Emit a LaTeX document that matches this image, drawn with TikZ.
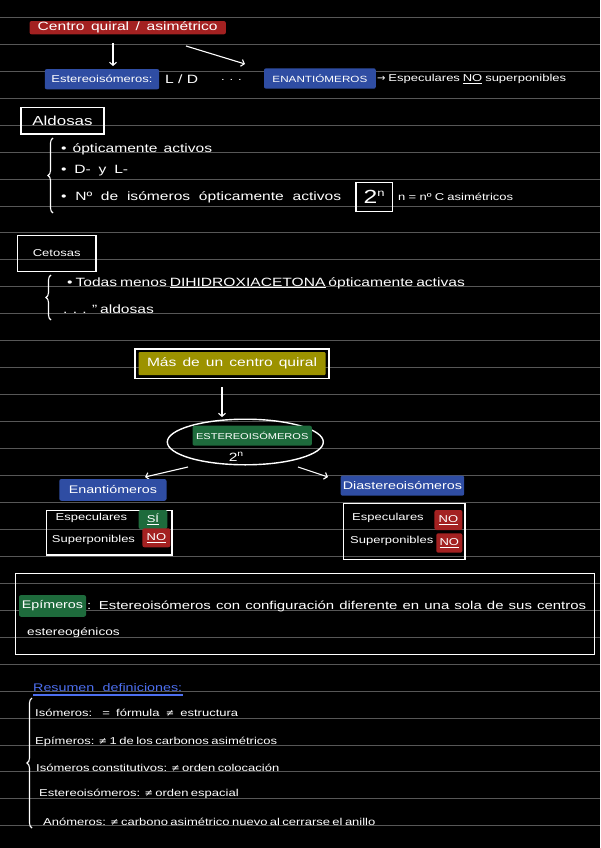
\documentclass[tikz,border=0pt]{standalone}
\usepackage{fontspec}
\setmainfont{Liberation Sans}[FakeStretch=1.3]
\newfontfamily\sym{DejaVu Sans}
\usetikzlibrary{arrows.meta,decorations.pathreplacing,shapes.geometric,calc}
\definecolor{bg}{HTML}{000000}
\definecolor{rulegray}{HTML}{575757}
\definecolor{redbox}{HTML}{A32121}
\definecolor{bluebox}{HTML}{2F4DA3}
\definecolor{olivebox}{HTML}{9C9200}
\definecolor{greenbox}{HTML}{1E6B3C}
\definecolor{titleblue}{HTML}{4D6FF0}
\newcommand{\neqsym}{{\sym ≠}}
\newcommand{\fitw}[2]{\makebox[#1][s]{#2}}
\newcommand{\fs}[1]{\fontsize{#1}{#1}\selectfont}
\begin{document}
\begin{tikzpicture}[x=1pt,y=-1pt,
  every node/.style={text=white,font=\fs{10}, inner sep=0pt},
  hl/.style={fill=#1, rounded corners=2pt, anchor=center},
  frame/.style={draw=white, line width=1.5pt, anchor=center},
  txt/.style={anchor=west},
  arr/.style={draw=white, line width=1.1pt, -{Straight Barb[length=3pt,width=7pt]}},
  brc/.style={draw=white, line width=1.1pt, decorate, decoration={brace, amplitude=5pt}},
]
\fill[bg] (0,0) rectangle (600,848);
\useasboundingbox (0,0) rectangle (600,848);
\foreach \k in {0,...,30}{
  \pgfmathsetmacro{\yy}{17.3+26.95*\k}
  \draw[rulegray, line width=0.9pt] (0,\yy) -- (600,\yy);
}

% --- top
\node[hl=redbox, minimum width=196.3pt, minimum height=13.3pt, font=\fs{12}] (quiral) at (127.7,27.7) {\fitw{180pt}{Centro quiral / asimétrico}};
\node[hl=bluebox, minimum width=114.4pt, minimum height=20.3pt] (est) at (102,79.2) {Estereoisómeros:};
\node[txt, font=\fs{12}] (ld) at (165,79) {L / D};
\node[txt] (dots) at (221,80) {. . .};
\node[hl=bluebox, minimum width=111.8pt, minimum height=20.4pt, font=\fs{9}] (enan) at (319.9,78.5) {ENANTIÓMEROS};
\node[txt] (espNO) at (377,79) {\fitw{189pt}{{\sym →} Especulares \underline{NO} superponibles}};
\coordinate (a1s) at (113,43); \coordinate (a1e) at (113,66);
\draw[arr] (a1s) -- (a1e);
\coordinate (a2s) at (186,46); \coordinate (a2e) at (245,64);
\draw[arr] (a2s) -- (a2e);

% --- Aldosas
\node[frame, minimum width=83pt, minimum height=26.7pt, font=\fs{13}] (ald) at (62.5,120.7) {Aldosas};
\coordinate (b1t) at (53,138); \coordinate (b1b) at (53,213);
\draw[brc] (b1b) -- (b1t);
\node[txt, font=\fs{12}] (al1) at (61,149) {\fitw{151pt}{• ópticamente activos}};
\node[txt, font=\fs{12}] (al2) at (61,171) {\fitw{67pt}{• D- y L-}};
\node[txt, font=\fs{12}] (al3) at (61,197) {\fitw{280pt}{• Nº de isómeros ópticamente activos}};
\node[frame, minimum width=36.3pt, minimum height=29pt] (pow) at (374.2,197.2) {\fs{19}2\raisebox{7pt}{\fs{10}n}};
\node[txt] (al4) at (398,197) {\fitw{115pt}{n = nº C asimétricos}};

% --- Cetosas
\node[frame, minimum width=78.1pt, minimum height=36pt] (cet) at (56.7,253.3) {Cetosas};
\coordinate (b2t) at (51,275); \coordinate (b2b) at (51,320);
\draw[brc] (b2b) -- (b2t);
\node[txt, font=\fs{12}] (ce1) at (67,283) {\fitw{394pt}{• Todas menos \underline{DIHIDROXIACETONA} ópticamente activas}};
\node[txt, font=\fs{12}] (ce2) at (63,309) {\fitw{90pt}{. . . " aldosas}};

% --- Más de un centro quiral
\node[frame, minimum width=194pt, minimum height=29.3pt] (mas) at (232,363.7) {};
\node[hl=olivebox, rounded corners=1pt, minimum width=187pt, minimum height=23pt, font=\fs{12}] (masin) at (mas.center) {\fitw{170pt}{Más de un centro quiral}};
\coordinate (a3s) at (222,387); \coordinate (a3e) at (222,417);
\draw[arr] (a3s) -- (a3e);
\node[draw=white, line width=1.4pt, ellipse, minimum width=156pt, minimum height=45.6pt] (ell) at (245.3,442) {};
\node[hl=greenbox, minimum width=119.4pt, minimum height=20pt, font=\fs{8.5}] (ester) at (252.2,435.7) {ESTEREOISÓMEROS};
\node (ell2n) at (236,457) {\fs{12}2\raisebox{5pt}{\fs{8}n}};
\coordinate (a4s) at (188,467); \coordinate (a4e) at (145,477);
\draw[arr] (a4s) -- (a4e);
\coordinate (a5s) at (298,467); \coordinate (a5e) at (328,477);
\draw[arr] (a5s) -- (a5e);

% --- Enantiómeros
\node[hl=bluebox, minimum width=107.2pt, minimum height=21.7pt, font=\fs{11}] (enan2) at (112.9,489.9) {Enantiómeros};
\node[frame, minimum width=125.5pt, minimum height=44.7pt] (tabL) at (109.45,532.65) {};
\node[txt] (tl1) at (55.5,518) {\fitw{75pt}{Especulares}};
\node[txt] (tl2) at (51.7,540) {\fitw{82pt}{Superponibles}};
\node[hl=greenbox, minimum width=28.7pt, minimum height=19pt] (si) at (152.9,519.5) {\underline{SÍ}};
\node[hl=redbox, minimum width=27.9pt, minimum height=19pt] (noL) at (156.4,537.8) {\underline{NO}};

% --- Diastereoisómeros
\node[hl=bluebox, minimum width=123.6pt, minimum height=20pt, font=\fs{11}] (dia) at (402.4,485.7) {Diastereoisómeros};
\node[frame, minimum width=121.7pt, minimum height=56pt] (tabR) at (404.2,531.3) {};
\node[txt] (tr1) at (352,518) {\fitw{74pt}{Especulares}};
\node[txt] (tr2) at (350,541) {\fitw{82pt}{Superponibles}};
\node[hl=redbox, minimum width=27.9pt, minimum height=20pt] (noR1) at (448.4,520) {\underline{NO}};
\node[hl=redbox, minimum width=26pt, minimum height=19.4pt] (noR2) at (449.3,543) {\underline{NO}};

% --- Epímeros
\node[frame, minimum width=579pt, minimum height=81pt] (epibox) at (304.8,613.8) {};
\node[hl=greenbox, minimum width=67pt, minimum height=21.7pt, font=\fs{11}] (epi) at (52.5,605.9) {Epímeros};
\node[txt, font=\fs{11.5}] (epi1) at (87,606.7) {\fitw{499pt}{: Estereoisómeros con configuración diferente en una sola de sus centros}};
\node[txt, font=\fs{10.5}] (epi2) at (27,633) {\fitw{92pt}{estereogénicos}};

% --- Resumen
\node[txt, text=titleblue, font=\fs{11}] (res) at (33,688) {\fitw{149pt}{Resumen definiciones:}};
\draw[titleblue, line width=2pt] (res.south west) ++(0,3) -- ++(150,0);
\coordinate (b3t) at (32,698); \coordinate (b3b) at (32,828);
\draw[brc] (b3b) -- (b3t);
\node[txt] (r1) at (35,713.3) {\fitw{203pt}{Isómeros: = fórmula \neqsym\ estructura}};
\node[txt] (r2) at (35,741.7) {\fitw{242pt}{Epímeros: \neqsym\ 1 de los carbonos asimétricos}};
\node[txt] (r3) at (36,768.3) {\fitw{217pt}{Isómeros constitutivos: \neqsym\ orden colocación}};
\node[txt] (r4) at (39,794.3) {\fitw{186pt}{Estereoisómeros: \neqsym\ orden espacial}};
\node[txt] (r5) at (43,821.7) {\fitw{326pt}{Anómeros: \neqsym\ carbono asimétrico nuevo al cerrarse el anillo}};
\end{tikzpicture}
\end{document}
